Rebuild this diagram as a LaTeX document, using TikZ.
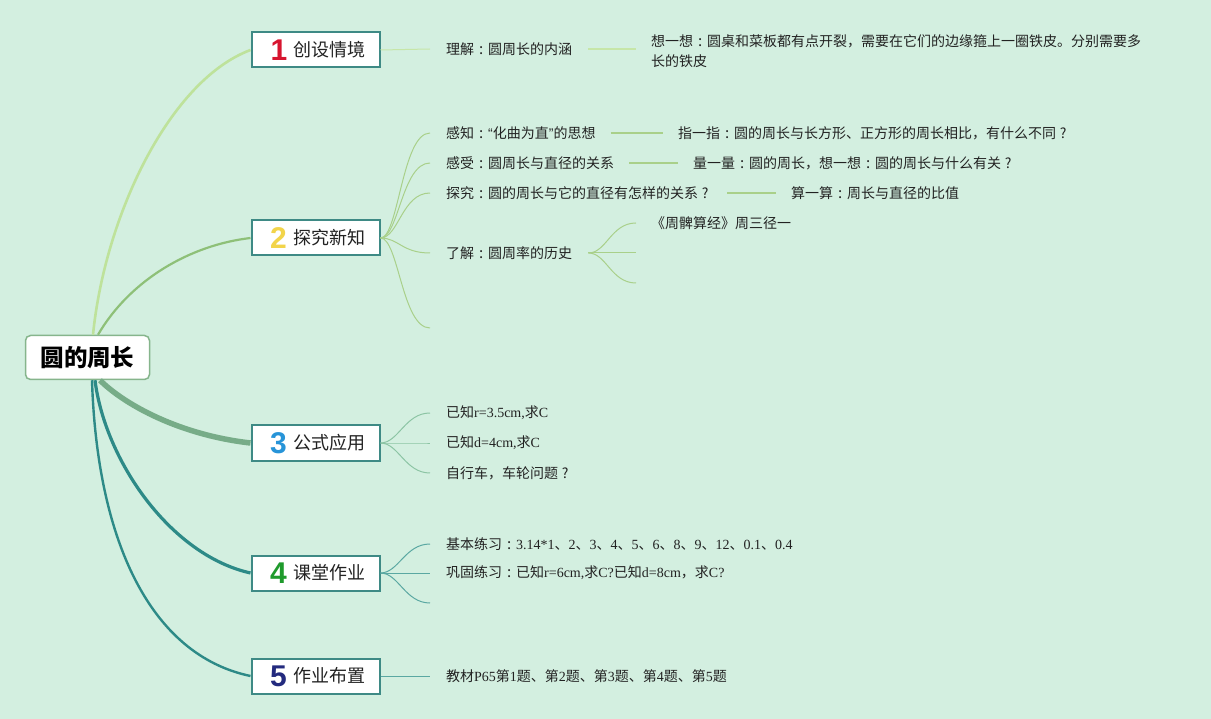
\documentclass[tikz,border=0pt]{standalone}
\usepackage{fontspec}
\setmainfont{Noto Sans CJK SC}
\newfontfamily\latser{Liberation Serif}
\newfontfamily\numfont{Liberation Sans}
\newcommand\ls[1]{{\latser #1}}
\newcommand\cc{\makebox[1em][c]{\fontsize{15}{15}\selectfont :}}
\newcommand\qq{\makebox[1em][c]{?}}
\newcommand\myLq{{\numfont “}}
\newcommand\myRq{{\numfont ”}}
\definecolor{bgc}{HTML}{D3EFE0}
\definecolor{boxc}{HTML}{3E8A85}
\definecolor{rootc}{HTML}{86B58C}
\definecolor{c1}{HTML}{BEE29B}
\definecolor{c2}{HTML}{8EC078}
\definecolor{c3}{HTML}{77AC88}
\definecolor{c4}{HTML}{2D8A87}
\definecolor{s1c}{HTML}{C6E6A8}
\definecolor{s2c}{HTML}{A9D08A}
\definecolor{s3c}{HTML}{8CC4A4}
\definecolor{s4c}{HTML}{5AA8A2}
\definecolor{dg1}{HTML}{D7152F}
\definecolor{dg2}{HTML}{F2D44A}
\definecolor{dg3}{HTML}{2794D8}
\definecolor{dg4}{HTML}{1F9A2C}
\definecolor{dg5}{HTML}{232A7E}
\definecolor{txt}{HTML}{222222}
\begin{document}
\begin{tikzpicture}[x=1pt,y=-1pt,
  leaf/.style={anchor=west, inner sep=0pt, text=txt, font=\fontsize{14}{20}\selectfont},
  box/.style={draw=boxc, line width=2pt, fill=white, minimum width=128pt, minimum height=35pt, inner sep=0pt},
  digit/.style={inner sep=0pt, font=\numfont\bfseries\fontsize{30}{30}\selectfont},
  boxtext/.style={anchor=west, inner sep=0pt, text=txt, font=\fontsize{18}{18}\selectfont},
  subline/.style={line width=1pt},
  hline/.style={line width=1.5pt},
]
\fill[bgc] (0,0) rectangle (1211,719);
\useasboundingbox (0,0) rectangle (1211,719);

% root
\node[draw=rootc, line width=1.5pt, fill=white, rounded corners=5pt, minimum width=124pt, minimum height=44pt, inner sep=0pt, font=\bfseries\fontsize{23.5}{24}\selectfont] (root) at (87.5,357.5) {圆的周长};

% boxes
\node[box] (b1) at (315.5,50) {};
\node[digit, text=dg1] (d1) at (279,50) {1};
\node[boxtext] (t1) at (293,50) {创设情境};
\node[box] (b2) at (315.5,238) {};
\node[digit, text=dg2] (d2) at (278.5,238) {2};
\node[boxtext] (t2) at (293,238) {探究新知};
\node[box] (b3) at (315.5,443) {};
\node[digit, text=dg3] (d3) at (278.5,443) {3};
\node[boxtext] (t3) at (293,443) {公式应用};
\node[box] (b4) at (315.5,573) {};
\node[digit, text=dg4] (d4) at (278.5,573) {4};
\node[boxtext] (t4) at (293,573) {课堂作业};
\node[box] (b5) at (315.5,676) {};
\node[digit, text=dg5] (d5) at (278.5,676) {5};
\node[boxtext] (t5) at (293,676) {作业布置};

% main branches
\draw[c1, line width=2.6pt] ([xshift=5.5]root.north) .. controls (105,215) and (170,80) .. (b1.west);
\draw[c2, line width=2.2pt] ([xshift=10.5]root.north) .. controls (130,280) and (190,245) .. (b2.west);
\draw[c3, line width=5.5pt] ([xshift=12.5]root.south) .. controls (125,405) and (180,435) .. (b3.west);
\draw[c4, line width=3.2pt] ([xshift=7.5]root.south) .. controls (105,460) and (170,555) .. (b4.west);
\draw[c4, line width=2.4pt] ([xshift=4.5]root.south) .. controls (97,540) and (150,655) .. (b5.west);

% branch 1
\node[leaf] (k0) at (446,49) {理解\cc 圆周长的内涵};
\node[leaf, align=left] (m0) at (651,51) {想一想\cc 圆桌和菜板都有点开裂，需要在它们的边缘箍上一圈铁皮。分别需要多\\长的铁皮};
\coordinate (m0l) at (m0.west |- k0.east);
\draw[s1c, subline] (b1.east) -- ([xshift=-16]k0.west);
\draw[s1c, hline] ([xshift=16]k0.east) -- ([xshift=-15]m0l);

% branch 2
\node[leaf] (k1) at (446,133) {感知\cc\myLq 化曲为直\myRq 的思想};
\node[leaf] (m1) at (678,133) {指一指\cc 圆的周长与长方形、正方形的周长相比，有什么不同\qq};
\node[leaf] (k2) at (446,163) {感受\cc 圆周长与直径的关系};
\node[leaf] (m2) at (693,163) {量一量\cc 圆的周长，想一想\cc 圆的周长与什么有关\qq};
\node[leaf] (k3) at (446,193) {探究\cc 圆的周长与它的直径有怎样的关系\qq};
\node[leaf] (m3) at (791,193) {算一算\cc 周长与直径的比值};
\node[leaf] (k4) at (446,253) {了解\cc 圆周率的历史};
\node[leaf] (n1) at (651,223) {《周髀算经》周三径一};
\coordinate (n2) at (636,253);
\coordinate (n3) at (636,283);
\coordinate (k5) at (430,328);
\foreach \k in {k1,k2,k3,k4}
  \draw[s2c, subline] (b2.east) .. controls +(18,0) and +(-28,0) .. ([xshift=-16]\k.west);
\draw[s2c, subline] (b2.east) .. controls +(18,0) and +(-28,0) .. (k5);
\draw[s2c, hline] ([xshift=15]k1.east) -- ([xshift=-15]m1.west);
\draw[s2c, hline] ([xshift=15]k2.east) -- ([xshift=-15]m2.west);
\draw[s2c, hline] ([xshift=15]k3.east) -- ([xshift=-15]m3.west);
\coordinate (k4e) at ([xshift=16]k4.east);
\draw[s2c, subline] (k4e) .. controls +(18,0) and +(-25,0) .. ([xshift=-15]n1.west);
\draw[s2c, subline] (k4e) -- (n2);
\draw[s2c, subline] (k4e) .. controls +(18,0) and +(-25,0) .. (n3);

% branch 3
\node[leaf] (p1) at (446,413) {已知\ls{r=3.5cm,}求\ls{C}};
\node[leaf] (p2) at (446,443) {已知\ls{d=4cm,}求\ls{C}};
\node[leaf] (p3) at (446,473) {自行车，车轮问题\qq};
\foreach \k in {p1,p2,p3}
  \draw[s3c, subline] (b3.east) .. controls +(18,0) and +(-25,0) .. ([xshift=-16]\k.west);

% branch 4
\node[leaf] (q1) at (446,544) {基本练习\cc\ls{3.14*1}、\ls{2}、\ls{3}、\ls{4}、\ls{5}、\ls{6}、\ls{8}、\ls{9}、\ls{12}、\ls{0.1}、\ls{0.4}};
\node[leaf] (q2) at (446,573) {巩固练习\cc 已知\ls{r=6cm,}求\ls{C?}已知\ls{d=8cm}，求\ls{C?}};
\coordinate (q3) at (430,603);
\draw[s4c, subline] (b4.east) .. controls +(18,0) and +(-25,0) .. ([xshift=-16]q1.west);
\draw[s4c, subline] (b4.east) -- ([xshift=-16]q2.west);
\draw[s4c, subline] (b4.east) .. controls +(18,0) and +(-25,0) .. (q3);

% branch 5
\node[leaf] (r1) at (446,676) {教材\ls{P65}第\ls{1}题、第\ls{2}题、第\ls{3}题、第\ls{4}题、第\ls{5}题};
\draw[s4c, subline] (b5.east) -- ([xshift=-16]r1.west);
\end{tikzpicture}
\end{document}
